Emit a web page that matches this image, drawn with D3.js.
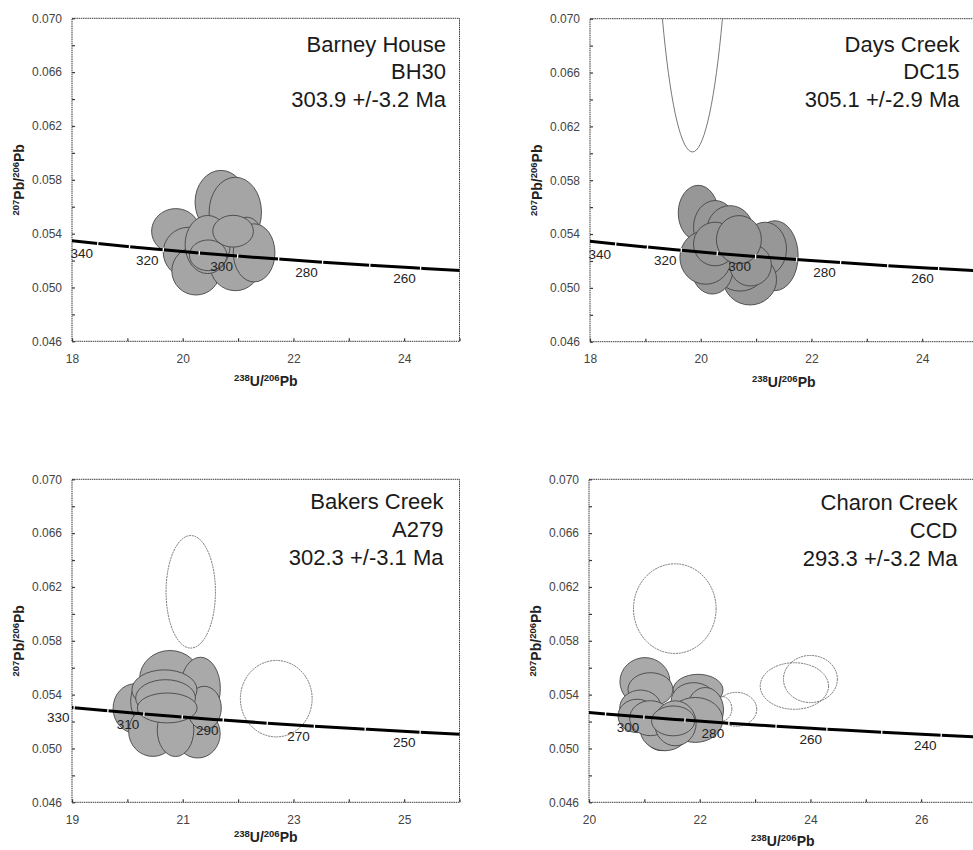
<!DOCTYPE html>
<html>
<head>
<meta charset="utf-8">
<script src="https://cdn.jsdelivr.net/npm/d3@7"></script>
<style>
  body { margin: 0; background: #fff; }
  svg { display: block; font-family: "Liberation Sans", Arial, sans-serif; }
</style>
</head>
<body>
<div id="chart"></div>
<script>
// Concordia ticks (age in Ma) with their 238U/206Pb and 207Pb/206Pb positions
const concordiaAges = [360, 350, 340, 330, 320, 310, 300, 290, 280, 270, 260, 250, 240, 230, 220];
const concordiaU = [17.412, 17.923, 18.465, 19.039, 19.649, 20.299, 20.992, 21.733, 22.527, 23.379, 24.297, 25.289, 26.363, 27.531, 28.805];
const concordiaPb = [0.05374, 0.05350, 0.05326, 0.05303, 0.05280, 0.05256, 0.05233, 0.05211, 0.05188, 0.05165, 0.05143, 0.05120, 0.05098, 0.05076, 0.05054];

// Panel text
const sampleNames = ["Barney House", "Days Creek", "Bakers Creek", "Charon Creek"];
const sampleIds = ["BH30", "DC15", "A279", "CCD"];
const sampleAges = ["303.9 +/-3.2 Ma", "305.1 +/-2.9 Ma", "302.3 +/-3.1 Ma", "293.3 +/-3.2 Ma"];

// Axes
const xDomains = [[18, 25], [18, 25], [19, 26], [20, 27]];
const xTickLabels = [[18, 20, 22, 24], [18, 20, 22, 24], [19, 21, 23, 25], [20, 22, 24, 26]];
const yDomain = [0.046, 0.070];
const yTickLabels = [0.046, 0.050, 0.054, 0.058, 0.062, 0.066, 0.070];
const ageLabels = [[340, 320, 300, 280, 260], [340, 320, 300, 280, 260], [330, 310, 290, 270, 250], [300, 280, 260, 240]];

// Analyses: [238U/206Pb, 207Pb/206Pb, half-width x, half-height y]
const bh30Spots = [
  [20.69, 0.05634, 0.467, 0.00236],
  [20.95, 0.05559, 0.473, 0.00260],
  [19.875, 0.05418, 0.437, 0.00168],
  [21.16, 0.05336, 0.300, 0.00186],
  [20.10, 0.05261, 0.452, 0.00186],
  [20.24, 0.05123, 0.437, 0.00179],
  [20.95, 0.05162, 0.452, 0.00186],
  [21.29, 0.05257, 0.376, 0.00216],
  [20.45, 0.05319, 0.407, 0.00216],
  [20.91, 0.05418, 0.367, 0.00118],
  [20.46, 0.05239, 0.338, 0.00114]
];
const dc15Spots = [
  [19.955, 0.05557, 0.361, 0.00205],
  [20.26, 0.05450, 0.390, 0.00199],
  [20.53, 0.05425, 0.420, 0.00186],
  [21.34, 0.05239, 0.420, 0.00260],
  [21.16, 0.05289, 0.390, 0.00199],
  [20.89, 0.05062, 0.480, 0.00189],
  [20.71, 0.05162, 0.480, 0.00186],
  [20.21, 0.05147, 0.376, 0.00193],
  [20.09, 0.05226, 0.466, 0.00199],
  [20.26, 0.05326, 0.390, 0.00162],
  [20.90, 0.05169, 0.376, 0.00155],
  [20.69, 0.05358, 0.406, 0.00179]
];
const a279Spots = [
  [20.77, 0.05520, 0.548, 0.00208],
  [21.32, 0.05446, 0.360, 0.00232],
  [20.14, 0.05298, 0.398, 0.00183],
  [20.48, 0.05350, 0.420, 0.00210],
  [20.46, 0.05127, 0.437, 0.00186],
  [21.27, 0.05109, 0.407, 0.00180],
  [20.87, 0.05138, 0.330, 0.00198],
  [21.39, 0.05301, 0.307, 0.00161],
  [20.67, 0.05436, 0.588, 0.00148],
  [20.69, 0.05375, 0.540, 0.00136],
  [20.72, 0.05301, 0.540, 0.00111]
];
const ccdSpots = [
  [21.01, 0.05496, 0.451, 0.00179],
  [21.11, 0.05439, 0.406, 0.00124],
  [21.97, 0.05434, 0.451, 0.00117],
  [20.93, 0.05301, 0.375, 0.00133],
  [20.87, 0.05242, 0.346, 0.00124],
  [21.31, 0.05126, 0.330, 0.00142],
  [21.37, 0.05150, 0.451, 0.00167],
  [21.89, 0.05353, 0.406, 0.00136],
  [22.10, 0.05286, 0.330, 0.00167],
  [21.92, 0.05212, 0.496, 0.00167],
  [21.11, 0.05225, 0.375, 0.00130],
  [21.56, 0.05187, 0.375, 0.00167],
  [21.52, 0.05205, 0.390, 0.00111]
];
// Rejected analyses (open ellipses)
const bh30Rejected = [];
const dc15Rejected = [[19.85, 0.0901, 0.73, 0.0300]];
const a279Rejected = [[21.145, 0.06164, 0.446, 0.00418], [22.69, 0.05370, 0.648, 0.00284]];
const ccdRejected = [
  [21.55, 0.06039, 0.746, 0.00333],
  [23.71, 0.05464, 0.617, 0.00173],
  [24.00, 0.05516, 0.487, 0.00175],
  [22.66, 0.05291, 0.370, 0.00126],
  [22.39, 0.05295, 0.190, 0.00093]
];

const spots = [bh30Spots, dc15Spots, a279Spots, ccdSpots];
const rejected = [bh30Rejected, dc15Rejected, a279Rejected, ccdRejected];

// Layout
const plotWidth = 387.5;
const plotHeight = 323;
const panelLeft = [72, 590, 72, 589];
const panelTop = [18.3, 18.7, 479.3, 479.3];
const titleInset = [13.5, 18, 16, 19];
const titleTop = [33.4, 33, 30, 30.7];
const xTitleGap = [45, 45, 40, 44];
const spotFill = ["#a5a5a5", "#979797", "#a9a9a9", "#a9a9a9"];

const svg = d3.select("#chart")
  .append("svg")
  .attr("width", 973)
  .attr("height", 850);

const concordia = concordiaAges.map((a, i) => ({ age: a, u: concordiaU[i], pb: concordiaPb[i] }));

const drawPanel = (p) => {
  const g = svg.append("g")
    .attr("transform", `translate(${panelLeft[p]}, ${panelTop[p]})`);

  const xScale = d3.scaleLinear().domain(xDomains[p]).range([0, plotWidth]);
  const yScale = d3.scaleLinear().domain(yDomain).range([plotHeight, 0]);

  g.append("clipPath")
    .attr("id", `clip-${p}`)
    .append("rect")
      .attr("width", plotWidth)
      .attr("height", plotHeight);

  // Frame
  g.append("rect")
    .attr("width", plotWidth)
    .attr("height", plotHeight)
    .attr("fill", "none")
    .attr("stroke", "#3a3a3a")
    .attr("stroke-width", 1)
    .attr("stroke-dasharray", "1.5,0.7");

  // Axes, ticks pointing inward
  const xTicks = d3.range(xDomains[p][0], xDomains[p][1] + 0.001, 1);
  const bottomAxis = d3.axisBottom(xScale)
    .tickValues(xTicks)
    .tickFormat(d => xTickLabels[p].includes(d) ? d : "")
    .tickSizeInner(-3)
    .tickSizeOuter(0)
    .tickPadding(13);
  const xAxis = g.append("g")
    .attr("transform", `translate(0, ${plotHeight})`)
    .call(bottomAxis);

  const yTicks = d3.range(0, 13).map(i => +(0.046 + i * 0.002).toFixed(3));
  const leftAxis = d3.axisLeft(yScale)
    .tickValues(yTicks)
    .tickFormat(d => yTickLabels.some(t => Math.abs(t - d) < 1e-6) ? d3.format(".3f")(d) : "")
    .tickSizeInner(-3)
    .tickSizeOuter(0)
    .tickPadding(10);
  const yAxis = g.append("g").call(leftAxis);

  [xAxis, yAxis].forEach(ax => {
    ax.select(".domain").remove();
    ax.selectAll(".tick line").attr("stroke", "#3a3a3a").attr("stroke-width", 1.2);
    ax.selectAll(".tick text")
      .attr("fill", "#444")
      .style("font-size", "12px")
      .style("font-family", "'Liberation Sans', Arial, sans-serif");
  });

  const plot = g.append("g").attr("clip-path", `url(#clip-${p})`);

  // Rejected analyses
  plot.selectAll(".rejected")
    .data(rejected[p])
    .join("ellipse")
      .attr("cx", d => xScale(d[0]))
      .attr("cy", d => yScale(d[1]))
      .attr("rx", d => xScale(d[0] + d[2]) - xScale(d[0]))
      .attr("ry", d => yScale(d[1] - d[3]) - yScale(d[1]))
      .attr("fill", "none")
      .attr("stroke", "#555")
      .attr("stroke-width", 0.8)
      .attr("stroke-dasharray", p === 1 ? null : "2,0.8");

  // Accepted analyses
  plot.selectAll(".spot")
    .data(spots[p])
    .join("ellipse")
      .attr("cx", d => xScale(d[0]))
      .attr("cy", d => yScale(d[1]))
      .attr("rx", d => xScale(d[0] + d[2]) - xScale(d[0]))
      .attr("ry", d => yScale(d[1] - d[3]) - yScale(d[1]))
      .attr("fill", spotFill[p])
      .attr("stroke", "#464646")
      .attr("stroke-width", 0.9);

  // Concordia curve
  const line = d3.line()
    .x(d => xScale(d.u))
    .y(d => yScale(d.pb))
    .curve(d3.curveMonotoneX);

  plot.append("path")
    .datum(concordia)
    .attr("d", line)
    .attr("fill", "none")
    .attr("stroke", "#000")
    .attr("stroke-width", 3);

  // White age ticks on the curve
  const inside = concordia.filter(d => d.u > xDomains[p][0] && d.u < xDomains[p][1]);
  plot.selectAll(".age-tick")
    .data(inside)
    .join("line")
      .each(function (d) {
        const i = concordia.indexOf(d);
        const a = concordia[i - 1], b = concordia[i + 1];
        const dx = xScale(b.u) - xScale(a.u);
        const dy = yScale(b.pb) - yScale(a.pb);
        const len = Math.hypot(dx, dy);
        const nx = -dy / len * 2.2, ny = dx / len * 2.2;
        const cx = xScale(d.u), cy = yScale(d.pb);
        d3.select(this)
          .attr("x1", cx - nx).attr("y1", cy - ny)
          .attr("x2", cx + nx).attr("y2", cy + ny);
      })
      .attr("stroke", "#fff")
      .attr("stroke-width", 1.3);

  // Age labels
  g.selectAll(".age-label")
    .data(concordia.filter(d => ageLabels[p].includes(d.age)))
    .join("text")
      .attr("x", d => xScale(d.u) - 16)
      .attr("y", d => yScale(d.pb) + 10)
      .attr("dy", "0.35em")
      .attr("text-anchor", "middle")
      .attr("fill", "#222")
      .style("font-size", "13.5px")
      .text(d => d.age);

  // Sample annotation
  [sampleNames[p], sampleIds[p], sampleAges[p]].forEach((t, i) => {
    g.append("text")
      .attr("x", plotWidth - titleInset[p])
      .attr("y", titleTop[p] + i * 27.8)
      .attr("text-anchor", "end")
      .attr("fill", "#1a1a1a")
      .style("font-size", "22px")
      .text(t);
  });

  // Axis titles
  const xTitle = g.append("text")
    .attr("x", plotWidth / 2)
    .attr("y", plotHeight + xTitleGap[p])
    .attr("text-anchor", "middle")
    .attr("fill", "#222")
    .style("font-weight", "bold")
    .style("font-size", "14px");
  xTitle.append("tspan").style("font-size", "9.5px").attr("dy", -5).text("238");
  xTitle.append("tspan").attr("dy", 5).text("U/");
  xTitle.append("tspan").style("font-size", "9.5px").attr("dy", -5).text("206");
  xTitle.append("tspan").attr("dy", 5).text("Pb");

  const yTitle = g.append("text")
    .attr("transform", `translate(-48, ${plotHeight / 2}) rotate(-90)`)
    .attr("text-anchor", "middle")
    .attr("fill", "#222")
    .style("font-weight", "bold")
    .style("font-size", "14px");
  yTitle.append("tspan").style("font-size", "9.5px").attr("dy", -5).text("207");
  yTitle.append("tspan").attr("dy", 5).text("Pb/");
  yTitle.append("tspan").style("font-size", "9.5px").attr("dy", -5).text("206");
  yTitle.append("tspan").attr("dy", 5).text("Pb");
};

[0, 1, 2, 3].forEach(drawPanel);
</script>
</body>
</html>
